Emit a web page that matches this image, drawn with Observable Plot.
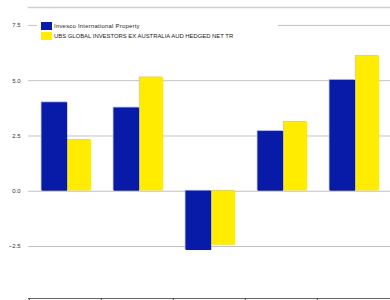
<!DOCTYPE html>
<html>
<head>
<meta charset="utf-8">
<script src="https://cdn.jsdelivr.net/npm/d3@7"></script>
<script src="https://cdn.jsdelivr.net/npm/@observablehq/plot@0.6"></script>
<style>
  html, body { margin: 0; padding: 0; background: #fff; }
  #wrap { position: relative; width: 390px; height: 300px; overflow: hidden; font-family: "Liberation Sans", Arial, sans-serif; }
  #wrap svg { position: absolute; left: 0; top: 0; }
  #legend { position: absolute; left: 37px; top: 19px; width: 241px; height: 23px; background: #fff; }
  .item { position: absolute; left: 4px; height: 8px; display: flex; align-items: center; font-size: 5.9px; color: #222; white-space: nowrap; }
  .sw { width: 11px; height: 8px; margin-right: 2px; flex: none; }
</style>
</head>
<body>
<div id="wrap"></div>
<script>
const categories = ["1 Month", "3 Months", "1 Year", "3 Years", "5 Years"];
const seriesNames = ["Invesco International Property", "UBS GLOBAL INVESTORS EX AUSTRALIA AUD HEDGED NET TR"];
const invesco = [4.0, 3.76, -2.68, 2.70, 5.01];
const ubs = [2.30, 5.13, -2.46, 3.12, 6.10];
const yTicks = [-2.5, 0, 2.5, 5, 7.5];
const colors = ["#071aa8", "#ffec00"];

const rowsA = categories.map((c, i) => ({cat: c, v: invesco[i]}));
const rowsB = categories.map((c, i) => ({cat: c, v: ubs[i]}));

const chart = Plot.plot({
  width: 390,
  height: 300,
  marginLeft: 28,
  marginRight: 0,
  marginTop: 7,
  marginBottom: 2,
  style: {fontFamily: "Liberation Sans, Arial, sans-serif", fontSize: "6px", color: "#333", background: "#fff"},
  x: {domain: categories, padding: 0, axis: null, label: null},
  y: {domain: [-4.85, 8.31], axis: null, label: null},
  marks: [
    Plot.gridY(yTicks, {stroke: "#c2c2c2", strokeOpacity: 1, strokeWidth: 1}),
    Plot.frame({anchor: "top", stroke: "#cfcfcf", strokeWidth: 1.5}),
    Plot.axisY(yTicks, {tickSize: 0, tickPadding: 8, tickFormat: d3.format(".1f"), fill: "#333", fontSize: 6, label: null}),
    Plot.barY(rowsA, {x: "cat", y: "v", fill: "#9aa0c0", insetLeft: 12.6, insetRight: 33.8, dx: -0.8, dy: -0.8}),
    Plot.barY(rowsB, {x: "cat", y: "v", fill: "#c8c8c8", insetLeft: 38.6, insetRight: 9.8, dx: -0.8, dy: -0.8}),
    Plot.barY(rowsA, {x: "cat", y: "v", fill: colors[0], insetLeft: 12.6, insetRight: 33.8}),
    Plot.barY(rowsB, {x: "cat", y: "v", fill: colors[1], insetLeft: 38.6, insetRight: 9.8}),
    Plot.frame({anchor: "bottom", stroke: "#666", strokeWidth: 1}),
    Plot.axisX(categories, {tickSize: 2.5, tickFormat: () => "", dx: -36.2, stroke: "#444", label: null})
  ]
});

const wrap = document.getElementById("wrap");
wrap.appendChild(chart);

const legend = document.createElement("div");
legend.id = "legend";
seriesNames.forEach((name, i) => {
  const it = document.createElement("div");
  it.className = "item";
  it.style.top = (3 + i * 10) + "px";
  const sw = document.createElement("span");
  sw.className = "sw";
  sw.style.background = colors[i];
  const t = document.createElement("span");
  t.textContent = name;
  if (i === 0) t.style.letterSpacing = "0.25px";
  it.appendChild(sw);
  it.appendChild(t);
  legend.appendChild(it);
});
wrap.appendChild(legend);
</script>
</body>
</html>
